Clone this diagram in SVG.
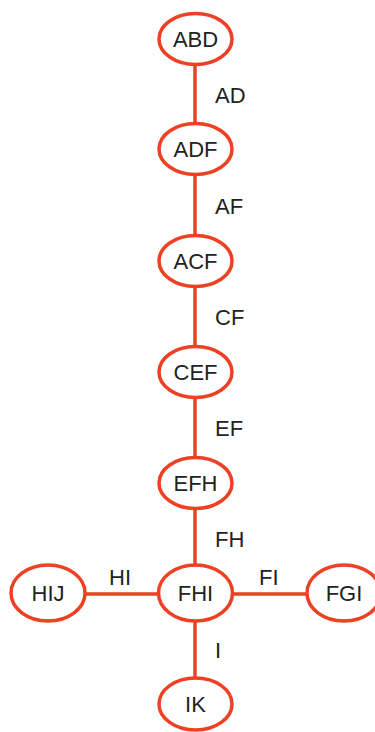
<svg xmlns="http://www.w3.org/2000/svg" width="375" height="732" viewBox="0 0 375 732">
  <style>
    .node ellipse { fill: #ffffff; stroke: #ee4123; stroke-width: 3.5; }
    .node text { font-family: "Liberation Sans", Arial, sans-serif; font-size: 22px; fill: #222222; text-anchor: middle; }
    .edge line { stroke: #ee4123; stroke-width: 3.5; }
    .lbl { font-family: "Liberation Sans", Arial, sans-serif; font-size: 22px; fill: #222222; }
  </style>
  <rect width="375" height="732" fill="#ffffff"/>
  <g id="connectors" class="edge">
    <line x1="195" y1="39" x2="195" y2="150"/>
    <line x1="195" y1="150" x2="195" y2="262"/>
    <line x1="195" y1="262" x2="195" y2="373"/>
    <line x1="195" y1="373" x2="195" y2="483"/>
    <line x1="195" y1="483" x2="195" y2="594"/>
    <line x1="195" y1="594" x2="195" y2="705"/>
    <line x1="48" y1="594" x2="195" y2="594"/>
    <line x1="195" y1="594" x2="344" y2="594"/>
    <text class="lbl" x="215" y="103">AD</text>
    <text class="lbl" x="215" y="214">AF</text>
    <text class="lbl" x="215" y="325">CF</text>
    <text class="lbl" x="215" y="436">EF</text>
    <text class="lbl" x="215" y="547">FH</text>
    <text class="lbl" x="215" y="658">I</text>
    <text class="lbl" x="109" y="585">HI</text>
    <text class="lbl" x="259" y="585">FI</text>
  </g>
  <g id="ABD" class="node"><ellipse cx="195.5" cy="39" rx="36.5" ry="25.5"/><text x="195.5" y="47">ABD</text></g>
  <g id="ADF" class="node"><ellipse cx="195.5" cy="149" rx="36.5" ry="25.5"/><text x="195.5" y="157">ADF</text></g>
  <g id="ACF" class="node"><ellipse cx="195.5" cy="261" rx="36.5" ry="25.5"/><text x="195.5" y="269">ACF</text></g>
  <g id="CEF" class="node"><ellipse cx="195.5" cy="372" rx="36.5" ry="25.5"/><text x="195.5" y="380">CEF</text></g>
  <g id="EFH" class="node"><ellipse cx="195.5" cy="483" rx="36.5" ry="25.5"/><text x="195.5" y="491">EFH</text></g>
  <g id="FHI" class="node"><ellipse cx="195.5" cy="593" rx="37" ry="28"/><text x="195.5" y="601">FHI</text></g>
  <g id="HIJ" class="node"><ellipse cx="48" cy="593" rx="37" ry="28"/><text x="48" y="601">HIJ</text></g>
  <g id="FGI" class="node"><ellipse cx="344" cy="593" rx="37" ry="28"/><text x="344" y="601">FGI</text></g>
  <g id="IK" class="node"><ellipse cx="195.5" cy="704" rx="36.5" ry="26"/><text x="195.5" y="712">IK</text></g>
</svg>
